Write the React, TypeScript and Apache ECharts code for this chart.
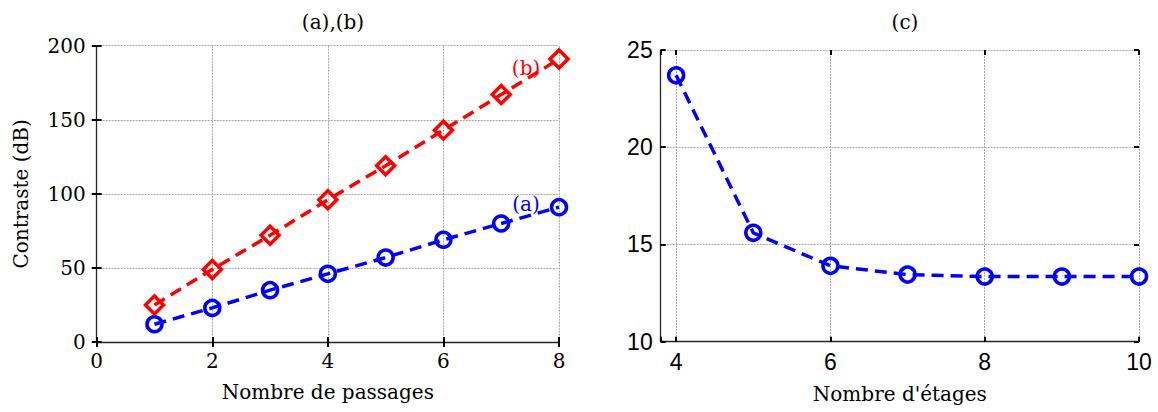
import React, { useEffect, useRef } from "react";
import * as echarts from "echarts";

// Left chart (a),(b)
const passages = [1, 2, 3, 4, 5, 6, 7, 8];
const seriesA = [12, 23, 35, 46, 57, 69, 80, 91];
const seriesB = [25, 49, 72, 96, 119, 143, 167, 191];
// Right chart (c)
const etages = [4, 5, 6, 7, 8, 9, 10];
const seriesC = [23.7, 15.6, 13.9, 13.45, 13.35, 13.35, 13.35];

const titleLeft = "(a),(b)";
const titleRight = "(c)";
const xNameLeft = "Nombre de passages";
const yNameLeft = "Contraste (dB)";
const xNameRight = "Nombre d'étages";
const labelA = "(a)";
const labelB = "(b)";
const labelAPos = [7.43, 93];
const labelBPos = [7.43, 185];

const SERIF = "DejaVu Serif";
const SANS = "Liberation Sans";
const BLUE = "#0000ff";
const RED = "#ff0000";
const GRID = { color: "#a8a8a8", width: 1, type: [2, 1] as any };
const AXIS = { color: "#262626", width: 1.3 };
const DASH = [12, 7];

function tick(len = 5) {
  return { show: true, inside: true, length: len, lineStyle: { color: "#000", width: 2 } };
}

export default function App() {
  const ref = useRef<HTMLDivElement>(null);
  useEffect(() => {
    if (!ref.current) return;
    const chart = echarts.init(ref.current, undefined, { renderer: "svg" });
    const mainX = (gridIndex: number, extra: any, font: string, size: number, name: string, gap: number) => ({
      type: "value",
      gridIndex,
      position: "bottom",
      ...extra,
      name,
      nameLocation: "middle",
      nameGap: gap,
      nameTextStyle: { fontFamily: SERIF, fontSize: 20, color: "#000", verticalAlign: "top" },
      axisLine: { show: true, onZero: false, lineStyle: AXIS },
      axisTick: tick(),
      axisLabel: {
        margin: 9,
        fontFamily: font,
        fontSize: size,
        color: "#000",
        formatter: (v: number) => (Math.abs(v - Math.round(v)) > 1e-6 ? "" : String(v)),
      },
      splitLine: { show: true, lineStyle: GRID },
    });
    const secX = (gridIndex: number, extra: any) => ({
      type: "value",
      gridIndex,
      position: "top",
      ...extra,
      axisLine: { show: false },
      axisTick: tick(),
      axisLabel: { show: false },
      splitLine: { show: false },
    });
    const mainY = (gridIndex: number, extra: any, font: string, size: number, margin: number) => ({
      type: "value",
      gridIndex,
      position: "left",
      ...extra,
      axisLine: { show: true, onZero: false, lineStyle: AXIS },
      axisTick: tick(),
      axisLabel: { margin, fontFamily: font, fontSize: size, color: "#000" },
      splitLine: { show: true, lineStyle: GRID },
    });
    const secY = (gridIndex: number, extra: any) => ({
      type: "value",
      gridIndex,
      position: "right",
      ...extra,
      axisLine: { show: false },
      axisTick: tick(),
      axisLabel: { show: false },
      splitLine: { show: false },
    });

    const xL = { min: 0, max: 8, interval: 2 };
    const yL = { min: 0, max: 200, interval: 50 };
    const xR = { min: 3.8, max: 10, splitNumber: 3 };
    const yR = { min: 10, max: 25, interval: 5 };

    const markLabel = (text: string, pos: number[], color: string) => ({
      symbol: "rect",
      symbolSize: 1,
      itemStyle: { color: "transparent" },
      silent: true,
      data: [
        {
          coord: pos,
          label: {
            show: true,
            position: "inside",
            formatter: text,
            color,
            fontFamily: SERIF,
            fontSize: 20,
          },
        },
      ],
    });

    const titleStyle = { fontFamily: SERIF, fontSize: 20, fontWeight: "normal", color: "#000" };

    const option: any = {
      animation: false,
      backgroundColor: "#fff",
      title: [
        { text: titleLeft, left: 328, top: 7, textAlign: "center", textStyle: titleStyle },
        { text: titleRight, left: 900, top: 7, textAlign: "center", textStyle: titleStyle },
      ],
      grid: [
        { left: 96.7, top: 45.7, width: 462.3, height: 296.3 },
        { left: 660.7, top: 50, width: 478.3, height: 291.7 },
      ],
      xAxis: [
        mainX(0, xL, SERIF, 20, xNameLeft, 40),
        secX(0, xL),
        mainX(1, xR, SANS, 23, xNameRight, 42),
        secX(1, xR),
      ],
      yAxis: [
        {
          ...mainY(0, yL, SERIF, 20, 11),
          name: yNameLeft,
          nameLocation: "middle",
          nameGap: 66,
          nameTextStyle: { fontFamily: SERIF, fontSize: 20, color: "#000" },
        },
        secY(0, yL),
        mainY(1, yR, SANS, 23, 8),
        secY(1, yR),
      ],
      series: [
        {
          type: "line",
          xAxisIndex: 0,
          yAxisIndex: 0,
          data: passages.map((x, i) => [x, seriesA[i]]),
          symbol: "circle",
          symbolSize: 15,
          showAllSymbol: true,
          lineStyle: { color: BLUE, width: 3.5, type: DASH },
          itemStyle: { color: "transparent", borderColor: BLUE, borderWidth: 3.5 },
          markPoint: markLabel(labelA, labelAPos, BLUE),
          z: 3,
        },
        {
          type: "line",
          xAxisIndex: 0,
          yAxisIndex: 0,
          data: passages.map((x, i) => [x, seriesB[i]]),
          symbol: "diamond",
          symbolSize: 18,
          showAllSymbol: true,
          lineStyle: { color: RED, width: 3.5, type: DASH },
          itemStyle: { color: "transparent", borderColor: RED, borderWidth: 3.5 },
          markPoint: markLabel(labelB, labelBPos, RED),
          z: 3,
        },
        {
          type: "line",
          xAxisIndex: 2,
          yAxisIndex: 2,
          data: etages.map((x, i) => [x, seriesC[i]]),
          symbol: "circle",
          symbolSize: 15,
          showAllSymbol: true,
          lineStyle: { color: BLUE, width: 3.5, type: DASH },
          itemStyle: { color: "transparent", borderColor: BLUE, borderWidth: 3.5 },
          z: 3,
        },
      ],
    };
    chart.setOption(option);
    return () => chart.dispose();
  }, []);
  return (
    <div
      ref={ref}
      style={{ position: "fixed", left: 0, top: 0, width: 1158, height: 412, background: "#fff" }}
    />
  );
}
